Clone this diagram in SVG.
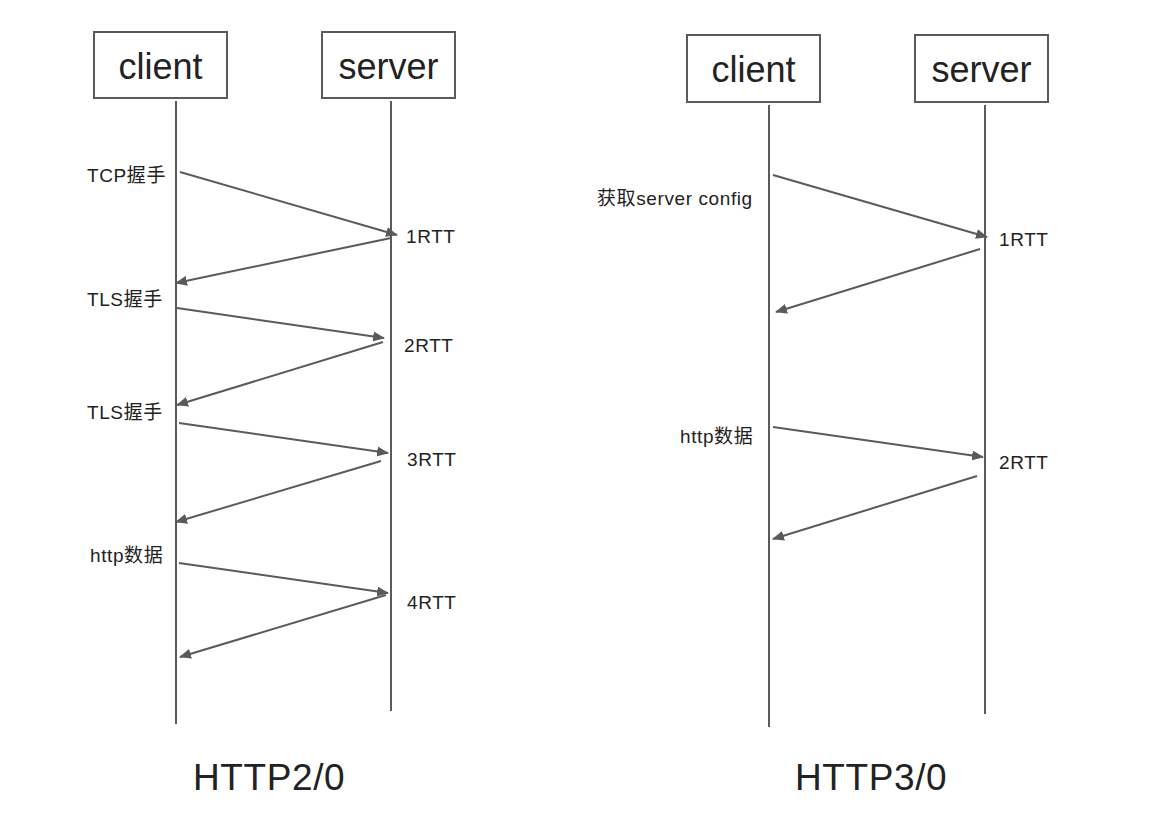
<svg xmlns="http://www.w3.org/2000/svg" width="1166" height="824" viewBox="0 0 1166 824">
<style>
.box{fill:#fff;stroke:#5a5a5a;stroke-width:2}
.life{stroke:#5a5a5a;stroke-width:2;fill:none}
.msg{stroke:#5a5a5a;stroke-width:2;fill:none;marker-end:url(#ah)}
.big{font-family:"Liberation Sans",Arial,sans-serif;font-size:36px;fill:#222}
.lbl{font-family:"Liberation Sans","Noto Sans CJK SC",sans-serif;font-size:19px;letter-spacing:0.6px;fill:#222}
.title{font-family:"Liberation Sans",Arial,sans-serif;font-size:37px;letter-spacing:0.6px;fill:#222}
</style>
<defs>
<marker id="ah" markerUnits="userSpaceOnUse" markerWidth="12" markerHeight="10" refX="11" refY="5" orient="auto">
<path d="M0,0 L12,5 L0,10 Z" fill="#5a5a5a"/>
</marker>
</defs>
<rect width="1166" height="824" fill="#fff"/>
<g id="left-client"><rect class="box" x="94" y="32" width="133" height="66"/><text class="big" x="160.5" y="79" text-anchor="middle">client</text></g>
<g id="left-server"><rect class="box" x="322" y="32" width="133" height="66"/><text class="big" x="388.5" y="79" text-anchor="middle">server</text></g>
<g id="right-client"><rect class="box" x="687" y="35" width="133" height="67"/><text class="big" x="753.5" y="82" text-anchor="middle">client</text></g>
<g id="right-server"><rect class="box" x="915" y="35" width="133" height="67"/><text class="big" x="981.5" y="82" text-anchor="middle">server</text></g>
<g id="connectors">
<line class="life" x1="176" y1="101" x2="176" y2="724"/>
<line class="life" x1="391" y1="101" x2="391" y2="711"/>
<line class="life" x1="769" y1="105" x2="769" y2="727"/>
<line class="life" x1="985" y1="105" x2="985" y2="714"/>
<line class="msg" x1="180" y1="172" x2="397" y2="235"/>
<line class="msg" x1="391" y1="238" x2="176" y2="283"/>
<line class="msg" x1="177" y1="308" x2="384" y2="338"/>
<line class="msg" x1="383" y1="342" x2="177" y2="405"/>
<line class="msg" x1="179" y1="423" x2="388" y2="453"/>
<line class="msg" x1="381" y1="461" x2="176" y2="522"/>
<line class="msg" x1="179" y1="563" x2="388" y2="593"/>
<line class="msg" x1="386" y1="595" x2="180" y2="657"/>
<line class="msg" x1="773" y1="175" x2="987" y2="237"/>
<line class="msg" x1="980" y1="249" x2="776" y2="312"/>
<line class="msg" x1="773" y1="427" x2="983" y2="457"/>
<line class="msg" x1="977" y1="476" x2="773" y2="539"/>
</g>
<g id="labels">
<text class="lbl" x="87" y="182">TCP握手</text>
<text class="lbl" x="406" y="243">1RTT</text>
<text class="lbl" x="87" y="306">TLS握手</text>
<text class="lbl" x="404" y="352">2RTT</text>
<text class="lbl" x="87" y="419">TLS握手</text>
<text class="lbl" x="407" y="466">3RTT</text>
<text class="lbl" x="90" y="562">http数据</text>
<text class="lbl" x="407" y="609">4RTT</text>
<text class="lbl" x="597" y="205">获取server config</text>
<text class="lbl" x="999" y="246">1RTT</text>
<text class="lbl" x="680" y="443">http数据</text>
<text class="lbl" x="999" y="469">2RTT</text>
<text class="title" x="193" y="790">HTTP2/0</text>
<text class="title" x="795" y="790">HTTP3/0</text>
</g>
</svg>
